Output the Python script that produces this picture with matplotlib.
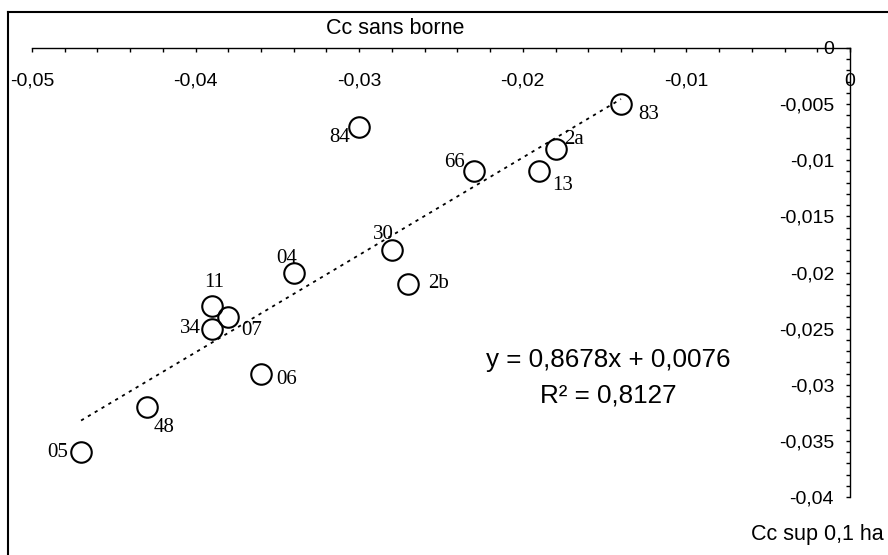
import matplotlib
matplotlib.use('Agg')
import matplotlib.pyplot as plt
from matplotlib.ticker import MultipleLocator
from matplotlib.lines import Line2D
import numpy as np

# ---------------- data ----------------
codes = ['84', '83', '2a', '66', '13', '30', '2b', '04', '11', '07', '34', '06', '48', '05']
cc_sans_borne = [-0.030, -0.014, -0.018, -0.023, -0.019, -0.028, -0.027,
                 -0.034, -0.039, -0.038, -0.039, -0.036, -0.043, -0.047]
cc_sup_01ha = [-0.007, -0.005, -0.009, -0.011, -0.011, -0.018, -0.021,
               -0.020, -0.023, -0.024, -0.025, -0.029, -0.032, -0.036]
trend_slope = 0.8678
trend_intercept = 0.0076
equation_text = 'y = 0,8678x + 0,0076'
r2_text = 'R² = 0,8127'
xtick_values = [-0.05, -0.04, -0.03, -0.02, -0.01, 0.0]
xtick_labels = ['-0,05', '-0,04', '-0,03', '-0,02', '-0,01', '0']
ytick_values = [0.0, -0.005, -0.01, -0.015, -0.02, -0.025, -0.03, -0.035, -0.04]
ytick_labels = ['0', '-0,005', '-0,01', '-0,015', '-0,02', '-0,025', '-0,03', '-0,035', '-0,04']
x_title = 'Cc sans borne'
y_title = 'Cc sup 0,1 ha'

# ---------------- layout / style ----------------
plt.rcParams['font.family'] = ['Liberation Sans', 'DejaVu Sans']
DPI = 100
W, H = 888, 555
PX = 72.0 / DPI  # points per pixel

# label placement: (ha, dx_px, dy_px downward)
label_pos = {
    '84': ('right', -9, 11), '83': ('left', 17, 10), '2a': ('left', 9, -10),
    '66': ('right', -9, -9), '13': ('left', 13, 14), '30': ('center', -9, -16),
    '2b': ('left', 20, 0), '04': ('center', -7, -14), '11': ('center', 2, -24),
    '07': ('left', 13, 13), '34': ('right', -11, 0), '06': ('left', 15, 6),
    '48': ('left', 7, 20), '05': ('right', -13, 0),
}

fig = plt.figure(figsize=(W / DPI, H / DPI), dpi=DPI)
fig.patch.set_facecolor('white')
ax = fig.add_axes([32 / W, 1 - 497 / H, (850 - 32) / W, (497 - 48) / H])
ax.set_xlim(-0.05, 0)
ax.set_ylim(-0.04, 0)
ax.patch.set_visible(False)

for s in ['top', 'right']:
    ax.spines[s].set_visible(False)
ax.spines['bottom'].set_position(('data', 0))
ax.spines['left'].set_position(('data', 0))
for s in ['bottom', 'left']:
    ax.spines[s].set_linewidth(1.0)

ax.set_xticks(xtick_values)
ax.set_xticklabels(xtick_labels)
ax.xaxis.set_minor_locator(MultipleLocator(0.002))
ax.set_yticks(ytick_values)
ax.set_yticklabels(ytick_labels)
ax.yaxis.set_minor_locator(MultipleLocator(0.001))
ax.tick_params(axis='x', which='both', direction='out', length=4.3 * PX, width=1.0,
               pad=20.5 * PX, labelsize=14)
ax.tick_params(axis='y', which='both', direction='out', length=4 * PX, width=1.0,
               pad=12 * PX, labelsize=14)

# trendline
xs = np.array([min(cc_sans_borne), max(cc_sans_borne)])
ax.plot(xs, trend_slope * xs + trend_intercept, color='black', lw=1.3,
        linestyle=(0, (1.8, 2.6)))

# points
ax.plot(cc_sans_borne, cc_sup_01ha, ls='none', marker='o', ms=20.5 * PX,
        mfc='none', mec='black', mew=1.5, clip_on=False)

for c, x, y in zip(codes, cc_sans_borne, cc_sup_01ha):
    ha, dx, dy = label_pos[c]
    ax.annotate(c, (x, y), xytext=(dx * PX, -dy * PX), textcoords='offset points',
                ha=ha, va='center', fontsize=15, family=['Liberation Serif', 'DejaVu Serif'])

# equation
fig.text(608 / W, 1 - 367 / H, equation_text, ha='center', va='baseline', fontsize=18.7)
fig.text(608 / W, 1 - 403 / H, r2_text, ha='center', va='baseline', fontsize=18.7)

# axis titles
fig.text(395 / W, 1 - 34 / H, x_title, ha='center', va='baseline', fontsize=15.5)
fig.text(884 / W, 1 - 540 / H, y_title, ha='right', va='baseline', fontsize=15.5)

# chart area border (left and top visible)
fig.add_artist(Line2D([8 / W, 8 / W], [0, 1 - 12 / H], color='black', lw=1.5,
                      transform=fig.transFigure))
fig.add_artist(Line2D([8 / W, 1], [1 - 12 / H, 1 - 12 / H], color='black', lw=1.5,
                      transform=fig.transFigure))

fig.savefig('out.png', dpi=DPI)
